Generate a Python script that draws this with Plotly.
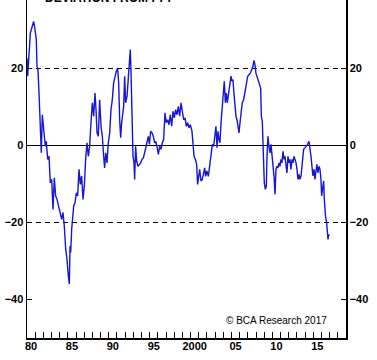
import plotly.graph_objects as go

# ---- data ----
years = [
    1980.00, 1980.08, 1980.41, 1980.61, 1980.81, 1980.90, 1981.02, 1981.14, 1981.22, 1981.34,
    1981.47, 1981.63, 1981.75, 1981.87, 1982.04, 1982.24, 1982.36, 1982.53, 1982.69, 1982.85,
    1983.02, 1983.18, 1983.34, 1983.50, 1983.67, 1983.87, 1984.08, 1984.24, 1984.40, 1984.56,
    1984.73, 1984.89, 1985.05, 1985.18, 1985.26, 1985.34, 1985.46, 1985.58, 1985.71, 1985.87,
    1986.03, 1986.19, 1986.36, 1986.52, 1986.68, 1986.85, 1987.01, 1987.17, 1987.33, 1987.50,
    1987.66, 1987.82, 1987.99, 1988.15, 1988.31, 1988.44, 1988.56, 1988.72, 1988.88, 1989.05,
    1989.21, 1989.37, 1989.49, 1989.62, 1989.78, 1989.94, 1990.11, 1990.27, 1990.43, 1990.59,
    1990.76, 1990.92, 1991.08, 1991.21, 1991.33, 1991.45, 1991.57, 1991.70, 1991.82, 1991.94,
    1992.06, 1992.23, 1992.39, 1992.55, 1992.63, 1992.71, 1992.84, 1992.96, 1993.08, 1993.16,
    1993.28, 1993.41, 1993.57, 1993.73, 1993.90, 1994.06, 1994.22, 1994.38, 1994.55, 1994.71,
    1994.83, 1994.96, 1995.12, 1995.28, 1995.44, 1995.61, 1995.73, 1995.89, 1996.06, 1996.22,
    1996.38, 1996.54, 1996.71, 1996.87, 1997.03, 1997.20, 1997.36, 1997.52, 1997.69, 1997.85,
    1998.01, 1998.17, 1998.34, 1998.50, 1998.66, 1998.83, 1998.99, 1999.15, 1999.32, 1999.48,
    1999.64, 1999.81, 1999.97, 2000.17, 2000.29, 2000.42, 2000.58, 2000.74, 2000.86, 2000.99,
    2001.11, 2001.27, 2001.43, 2001.60, 2001.72, 2001.84, 2002.00, 2002.17, 2002.33, 2002.49,
    2002.66, 2002.82, 2002.98, 2003.10, 2003.23, 2003.35, 2003.47, 2003.59, 2003.72, 2003.88,
    2004.00, 2004.12, 2004.25, 2004.37, 2004.49, 2004.61, 2004.78, 2004.94, 2005.06, 2005.18,
    2005.30, 2005.43, 2005.55, 2005.67, 2005.79, 2005.92, 2006.04, 2006.16, 2006.32, 2006.49,
    2006.65, 2006.81, 2006.98, 2007.14, 2007.30, 2007.47, 2007.63, 2007.75, 2007.87, 2007.99,
    2008.12, 2008.28, 2008.44, 2008.57, 2008.65, 2008.77, 2008.85, 2008.93, 2009.01, 2009.14,
    2009.26, 2009.34, 2009.46, 2009.58, 2009.71, 2009.83, 2009.95, 2010.07, 2010.20, 2010.32,
    2010.44, 2010.56, 2010.68, 2010.81, 2010.93, 2011.05, 2011.17, 2011.30, 2011.42, 2011.54,
    2011.66, 2011.78, 2011.91, 2012.03, 2012.15, 2012.27, 2012.40, 2012.52, 2012.64, 2012.76,
    2012.89, 2013.01, 2013.13, 2013.25, 2013.37, 2013.50, 2013.66, 2013.82, 2013.98, 2014.15,
    2014.31, 2014.47, 2014.60, 2014.72, 2014.84, 2014.96, 2015.09, 2015.21, 2015.33, 2015.45,
    2015.57, 2015.70, 2015.82, 2015.94, 2016.02, 2016.14, 2016.27, 2016.35, 2016.43, 2016.51,
    2016.63, 2016.72, 2016.80, 2016.88, 2016.96,
]
deviation = [
    22.7, 18.0, 29.2, 30.9, 32.2, 31.3, 28.3, 27.5, 20.6, 19.7,
    13.6, 1.6, -1.9, 8.0, 3.3, -0.2, 1.1, -3.6, -2.8, -9.7,
    -8.8, -16.6, -8.4, -13.1, -14.0, -15.7, -17.4, -19.2, -17.4, -20.9,
    -26.9, -29.5, -33.9, -36.0, -26.1, -27.8, -21.8, -17.4, -15.7, -14.9,
    -12.3, -13.1, -6.2, -10.1, -7.9, -14.0, -10.5, -3.6, 0.7, -2.8,
    -0.2, 5.9, 11.1, 7.6, 13.6, 9.3, 3.3, 2.4, 11.9, 5.0,
    2.4, -2.8, -5.8, -1.9, -4.5, 0.7, 3.3, 9.3, 11.9, 16.2,
    18.0, 19.3, 20.1, 16.2, 6.7, 2.0, 5.9, 7.6, 10.2, 18.0,
    11.1, 12.8, 17.1, 22.3, 24.9, 19.7, 5.0, -2.8, -4.5, -8.8,
    -0.2, -4.1, -5.4, -4.9, -4.5, -3.6, -3.2, -1.9, -0.2, 0.7,
    2.4, 0.3, 3.7, 3.3, 2.4, 0.7, 1.1, -0.2, -2.3, -0.2,
    -1.0, 0.7, 1.6, 8.5, 5.9, 6.7, 5.4, 8.0, 5.0, 8.9,
    7.2, 9.3, 8.0, 10.2, 7.6, 11.1, 8.5, 6.7, 7.2, 5.0,
    5.9, 4.6, 5.4, 3.7, 0.7, -2.8, -3.6, -4.9, -10.1, -8.4,
    -6.2, -9.2, -8.8, -7.1, -5.8, -8.0, -6.6, -8.0, -5.4, -1.9,
    0.3, -0.2, 2.4, 5.0, -0.6, 3.7, 1.6, 0.7, 5.9, 10.2,
    14.5, 16.7, 11.1, 13.6, 11.1, 12.8, 15.4, 18.0, 16.7, 17.1,
    13.6, 10.2, 7.6, 6.7, 5.0, 3.3, 5.9, 7.6, 11.1, 11.9,
    13.6, 16.2, 18.0, 18.4, 18.8, 19.7, 20.6, 22.1, 21.0, 18.8,
    18.0, 17.1, 16.2, 14.9, 7.6, 6.3, 0.7, -6.2, -9.7, -11.4,
    -10.5, -2.8, 2.4, -0.2, -1.9, 0.3, -1.9, -4.5, -8.0, -12.7,
    -6.2, -5.4, -5.8, -4.5, -5.4, -3.6, -4.5, -1.5, -3.6, -2.8,
    -5.4, -7.1, -2.8, -4.5, -3.6, -6.2, -3.6, -4.5, -2.8, -3.6,
    -4.5, -6.2, -8.8, -7.5, -8.8, -7.9, -3.6, -1.0, -0.6, -0.2,
    0.3, 1.1, -0.6, -2.8, -5.4, -7.9, -6.2, -8.8, -6.6, -4.9,
    -7.1, -5.4, -6.2, -8.8, -13.1, -10.5, -9.2, -14.0, -16.6, -18.7,
    -20.0, -22.2, -24.4, -23.1, -23.5,
]

y_ticks = [20, 0, -20, -40]
x_label_years = [1980, 1985, 1990, 1995, 2000, 2005, 2010, 2015]
x_label_text = ["80", "85", "90", "95", "2000", "05", "10", "15"]
dashed_levels = [20, -20]
x_range = [1980, 2019]
y_range = [-50, 37.8]
title_text = "DEVIATION FROM PPP"
credit_text = "© BCA Research 2017"

FONT = "Liberation Sans, Arial, sans-serif"
bold = dict(family=FONT, size=11, color="black", weight="bold")

fig = go.Figure()
fig.add_trace(go.Scatter(
    x=years, y=deviation, mode="lines",
    line=dict(color="#1515d4", width=1.4),
    showlegend=False, hoverinfo="skip",
))

shapes = []
for lvl in dashed_levels:
    shapes.append(dict(type="line", xref="paper", x0=0, x1=1, yref="y", y0=lvl, y1=lvl,
                       line=dict(color="black", width=1, dash="5px,4px"), layer="below"))

fig.update_layout(
    width=377, height=360,
    margin=dict(l=27, r=31, t=0, b=22, pad=0),
    paper_bgcolor="white", plot_bgcolor="white",
    shapes=shapes,
    xaxis=dict(range=x_range, tick0=1980, dtick=1, ticks="inside", ticklen=6,
               tickwidth=1, tickcolor="black", showticklabels=False,
               showline=True, linecolor="black", linewidth=1.5,
               showgrid=False, zeroline=False),
    xaxis2=dict(range=x_range, overlaying="x", anchor="y", side="bottom",
                tickvals=[y + 0.5 for y in x_label_years], ticktext=x_label_text,
                ticks="", showline=False, showgrid=False, zeroline=False,
                tickfont=bold),
    yaxis=dict(range=y_range, tickvals=y_ticks, ticks="inside", ticklen=5,
               tickwidth=1, tickcolor="black", tickfont=bold,
               showline=True, linecolor="black", linewidth=1.5,
               showgrid=False, zeroline=True, zerolinecolor="black", zerolinewidth=1.2),
    yaxis2=dict(range=y_range, overlaying="y", side="right", anchor="x",
                tickvals=y_ticks, ticks="inside", ticklen=5, tickwidth=1,
                tickcolor="black", tickfont=bold,
                showline=True, linecolor="black", linewidth=1.5,
                showgrid=False, zeroline=False),
    annotations=[
        dict(text=title_text, xref="paper", yref="paper", x=0.05, y=0.978,
             xanchor="left", yanchor="bottom", showarrow=False,
             font=dict(family=FONT, size=12, color="black", weight="bold")),
        dict(text=credit_text, xref="paper", yref="paper", x=0.9467, y=0.0503,
             xanchor="right", yanchor="middle", showarrow=False,
             font=dict(family=FONT, size=10, color="black")),
    ],
)
fig.add_trace(go.Scatter(x=[None], y=[None], xaxis="x2", yaxis="y2",
                         showlegend=False, hoverinfo="skip"))

fig.write_html(
    "out.html",
    config={"displayModeBar": False, "staticPlot": True},
    post_script="document.body.style.margin='0';document.body.style.overflow='hidden';",
)
